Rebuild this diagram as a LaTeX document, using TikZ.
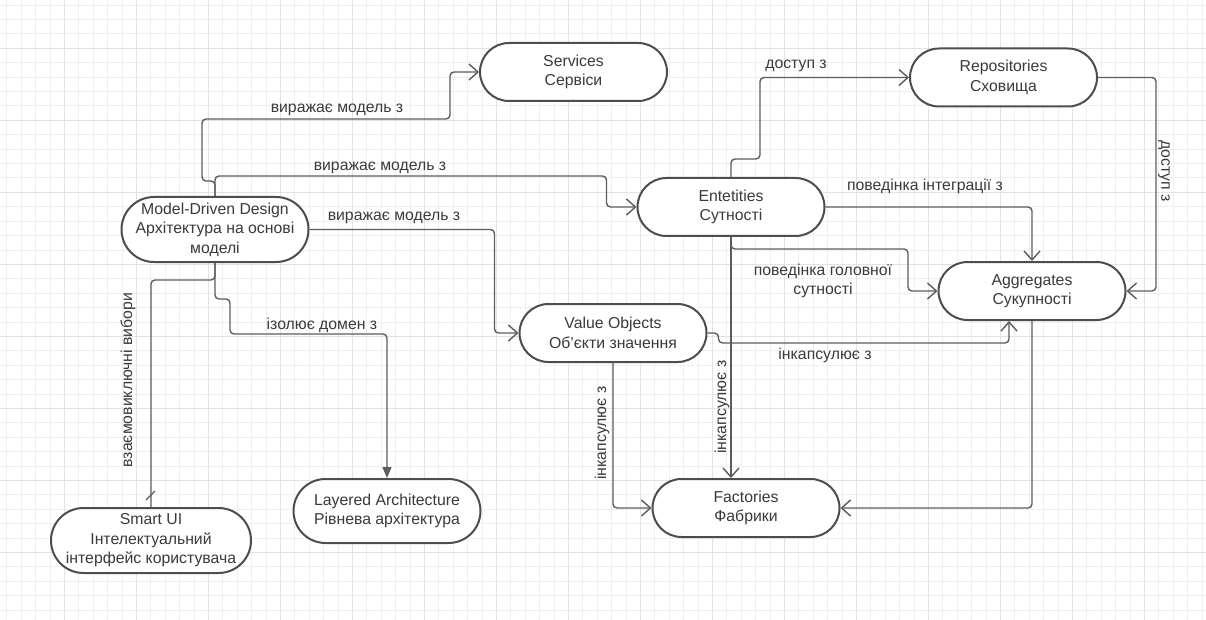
\documentclass[tikz,border=0pt]{standalone}
\usepackage{fontspec}
\setmainfont{Liberation Sans}
\usetikzlibrary{arrows.meta}
\definecolor{gridminor}{HTML}{EFEFEF}
\definecolor{gridmajor}{HTML}{E2E2E2}
\definecolor{edge}{HTML}{5C5C5C}
\definecolor{border}{HTML}{4D4D4D}
\definecolor{ink}{HTML}{3A3A3A}

\begin{document}
\begin{tikzpicture}[x=1pt,y=-1pt,
  every node/.style={font=\fontsize{15.8}{19.5}\selectfont, text=ink},
  term/.style={draw=border, line width=2pt, fill=white, rounded corners=29pt,
    minimum width=187pt, minimum height=58pt, align=center, inner sep=2pt},
  tall/.style={minimum height=65pt, rounded corners=32.5pt},
  link/.style={draw=edge, line width=1.4pt, rounded corners=4pt},
  conn/.style={link, -{Straight Barb[length=9pt,width=16pt]}},
  solidconn/.style={link, -{Triangle[length=11pt,width=9pt]}},
  lbl/.style={inner sep=1pt, align=center}
]
\useasboundingbox (0,0) rectangle (1206,620);

% background grid
\foreach \i in {0,...,83}
  \draw[gridminor, line width=0.8pt] ({6.7+14.4*\i},0) -- ({6.7+14.4*\i},620);
\foreach \j in {0,...,42}
  \draw[gridminor, line width=0.8pt] (0,{5.1+14.4*\j}) -- (1206,{5.1+14.4*\j});
\foreach \i in {1,...,16}
  \draw[gridmajor, line width=0.9pt] ({-7.7+72*\i},0) -- ({-7.7+72*\i},620);
\foreach \j in {0,...,7}
  \draw[gridmajor, line width=0.9pt] (0,{48.3+72*\j}) -- (1206,{48.3+72*\j});

% concepts
\node[term] (svc)  at (573.5,72)  {Services\\Сервіси};
\node[term,tall] (mdd) at (215,229.5) {Model-Driven Design\\Архітектура на основі\\моделі};
\node[term] (ent)  at (731,207)   {Entetities\\Сутності};
\node[term] (repo) at (1003.5,77.5) {Repositories\\Сховища};
\node[term] (agg)  at (1032,291)  {Aggregates\\Сукупності};
\node[term] (vo)   at (613,333)   {Value Objects\\Об'єкти значення};
\node[term] (fac)  at (746,508)   {Factories\\Фабрики};
\node[term,tall,minimum width=200pt] (sui) at (151,540.5) {Smart UI\\Інтелектуальний\\інтерфейс користувача};
\node[term,minimum height=64pt,rounded corners=32pt] (lay) at (387,511) {Layered Architecture\\Рівнева архітектура};

% relations from Model-Driven Design
\draw[conn] (mdd.north) -- ++(0,-15) -- ++(-13,0) -- ++(0,-62) -| ([xshift=-29pt]svc.west) -- (svc.west);
\node[lbl] at (337,110) {виражає модель з};

\draw[conn] (mdd.north) -- ++(0,-20) -| ([xshift=-30pt]ent.west) -- (ent.west);
\node[lbl] at (380,168) {виражає модель з};

\draw[conn] (mdd.east) -- ++(185,0) |- (vo.west);
\node[lbl] at (394,218) {виражає модель з};

\draw[solidconn] (mdd.south) -- ++(0,36) -- ++(15,0) -- ++(0,35) -| (lay.north);
\node[lbl] at (322,325) {ізолює домен з};

\draw[link] (mdd.south) -- ++(0,17) -| (sui.north);
\draw[edge, line width=1.4pt] ([shift={(-5,-7)}]sui.north) -- ([shift={(4,-16)}]sui.north);
\node[lbl, rotate=90] at (128,380) {взаємовиключні вибори};

% relations from Entities
\draw[conn] (ent.north) |- (760,159) |- (repo.west);
\node[lbl] at (796,66) {доступ з};

\draw[conn] (ent.east) -| (agg.north);
\node[lbl] at (925,186) {поведінка інтеграції з};

\draw[conn] (ent.south) |- (908,249) |- (agg.west);
\node[lbl] at (823,281) {поведінка головної\\сутності};

\draw[conn] (ent.south) -- (ent.south |- fac.north);
\node[lbl, rotate=90] at (722,407) {інкапсулює з};

% repositories to aggregates
\draw[conn] (repo.east) -- ++(58,0) |- (agg.east);
\node[lbl, rotate=-90] at (1164,171) {доступ з};

% value objects
\draw[conn] (vo.east) -- ++(11,0) -- ++(0,10) -| ([xshift=-23pt]agg.south);
\node[lbl] at (825,355) {інкапсулює з};

\draw[conn] (vo.south) |- (fac.west);
\node[lbl, rotate=90] at (602,433) {інкапсулює з};

% aggregates to factories
\draw[conn] (agg.south) |- (fac.east);
\end{tikzpicture}
\end{document}
